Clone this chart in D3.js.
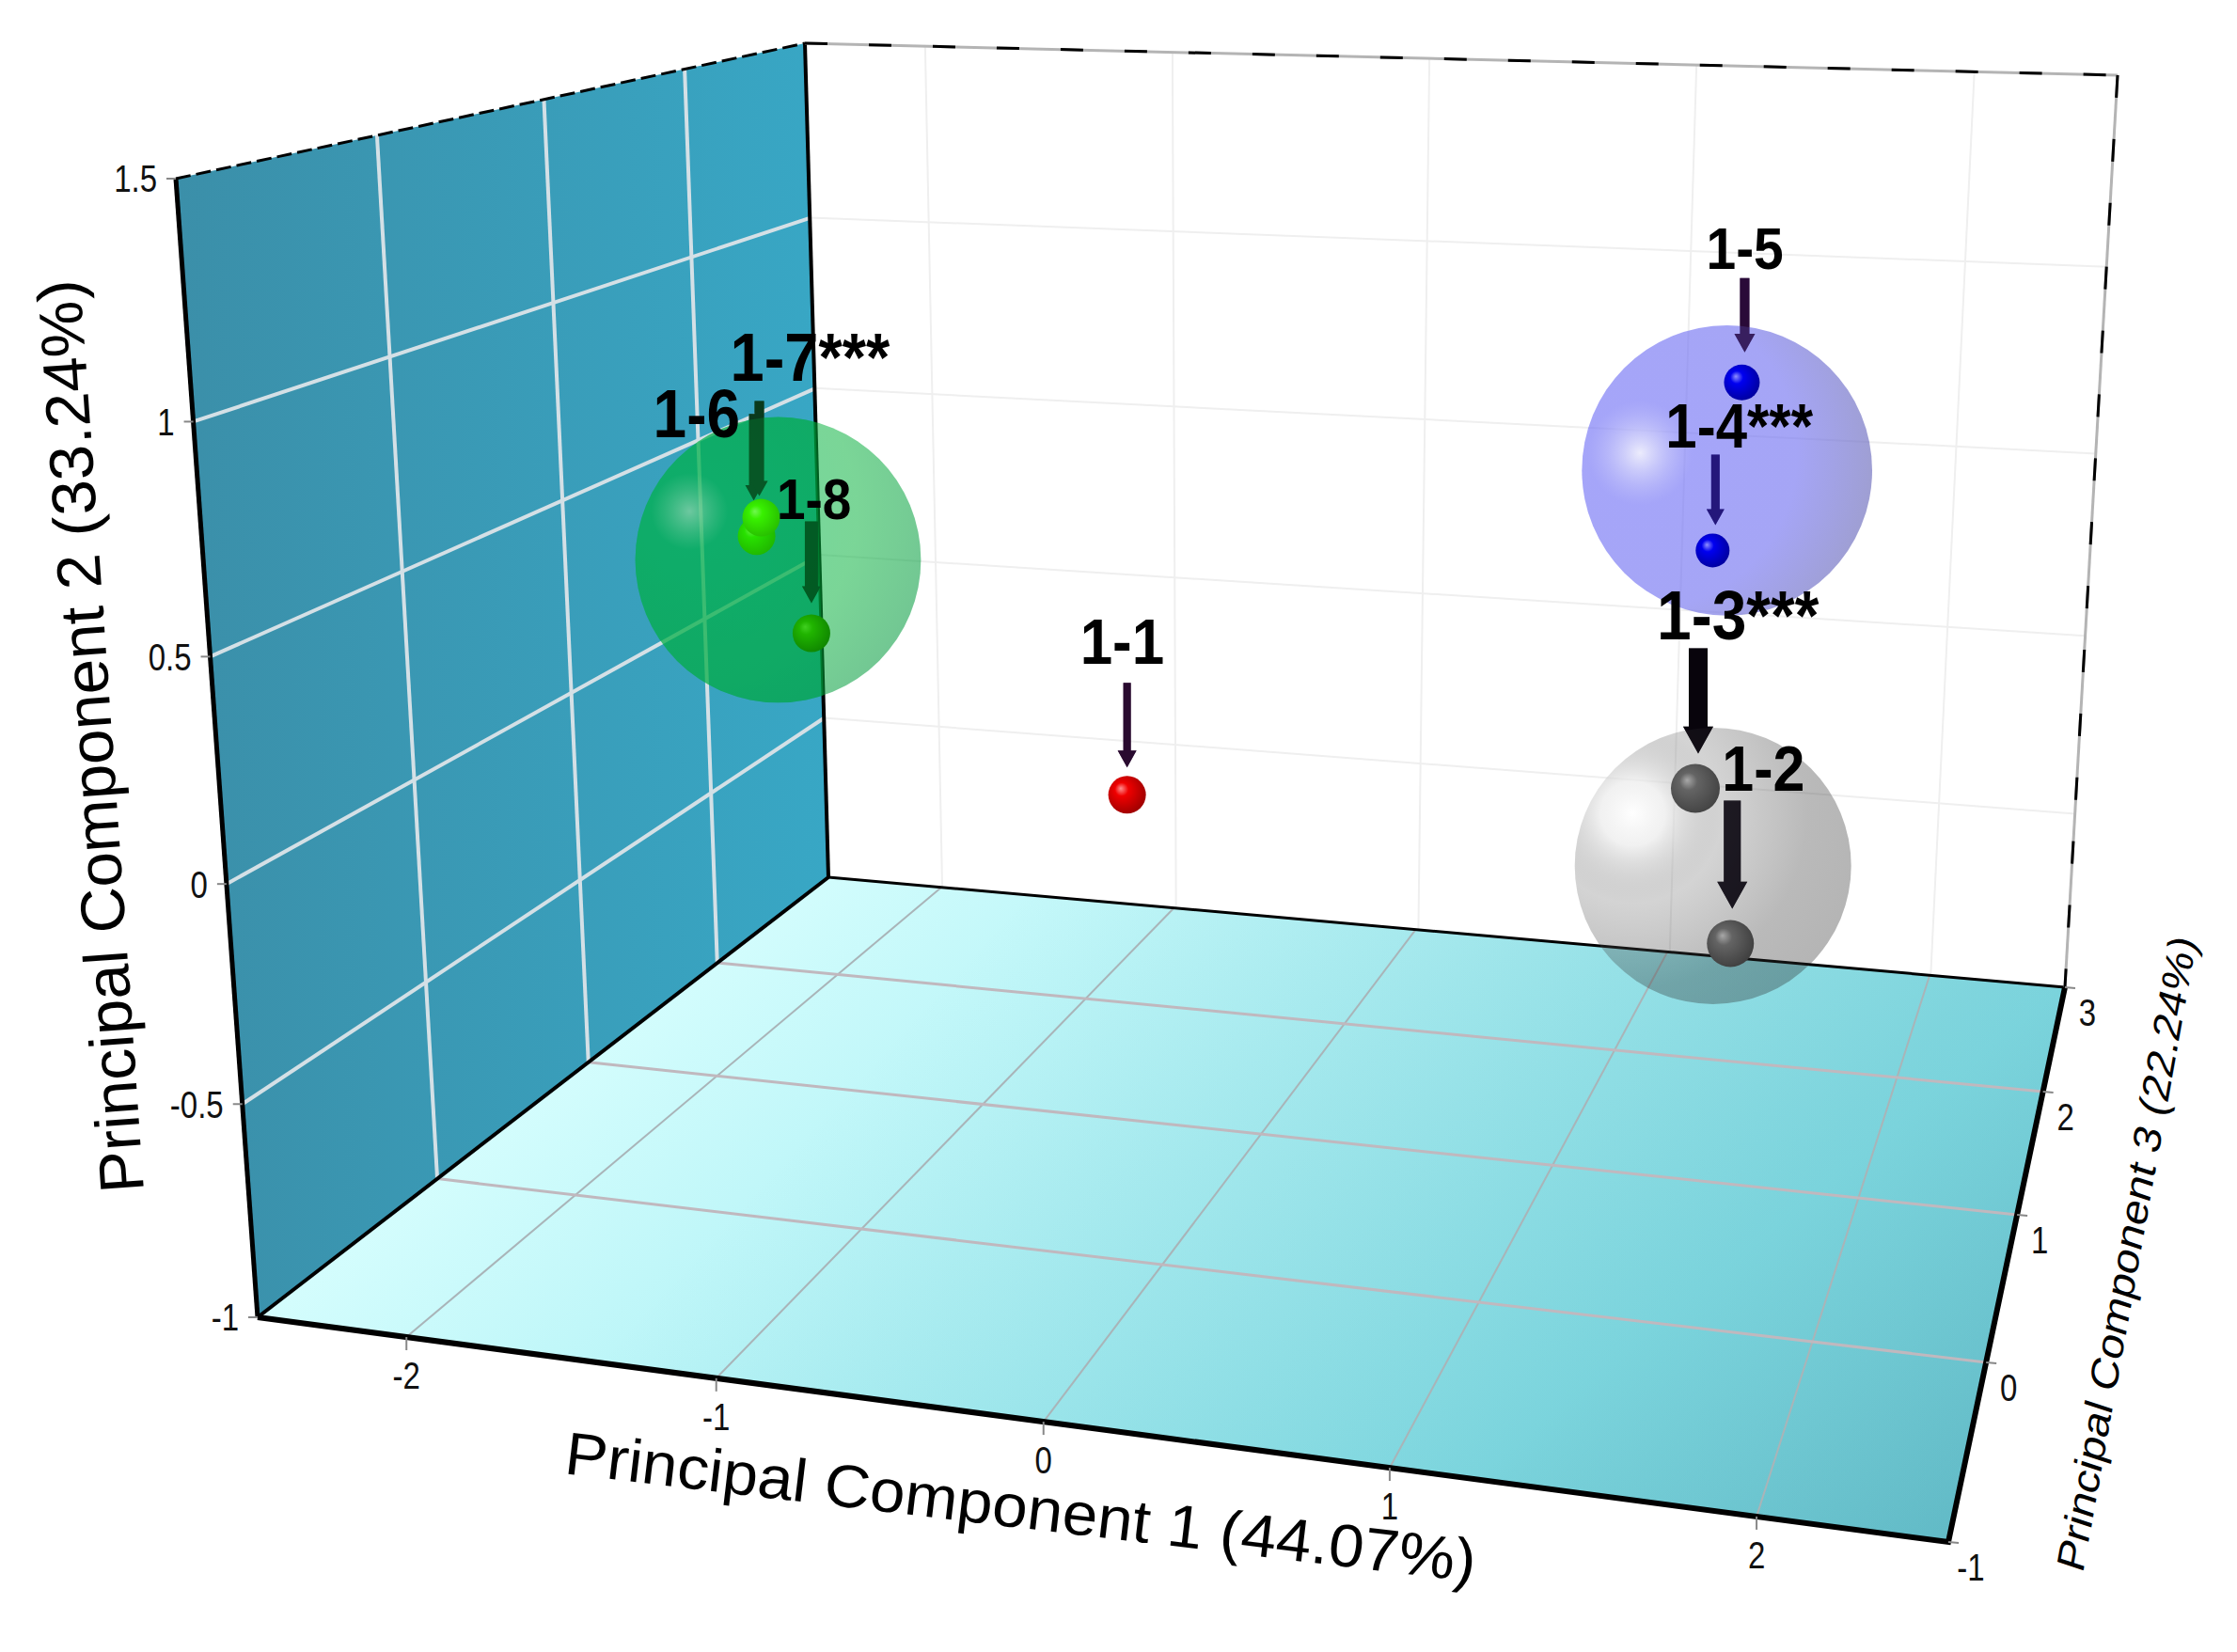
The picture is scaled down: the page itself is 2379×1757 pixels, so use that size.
<!DOCTYPE html>
<html>
<head>
<meta charset="utf-8">
<script src="https://cdn.jsdelivr.net/npm/d3@7"></script>
<style>
  html, body { margin: 0; background: #fff; }
  text { font-family: "Liberation Sans", Arial, sans-serif; }
</style>
</head>
<body>
<div id="chart"></div>
<script>
const xTicks = [-2, -1, 0, 1, 2];
const yTicks = [-1, -0.5, 0, 0.5, 1, 1.5];
const zTicks = [-1, 0, 1, 2, 3];

const sampleLabels = ['1-1', '1-2', '1-3***', '1-4***', '1-5', '1-6', '1-7***', '1-8'];
const sampleGroups = ['red', 'gray', 'gray', 'blue', 'blue', 'green', 'green', 'green'];
const samplePc1 = [-0.47, 1.67, 1.55, 1.29, 1.37, -2.03, -2.01, -1.83];
const samplePc2 = [-0.19, -0.24, 0.10, 0.32, 0.76, 0.30, 0.35, 0.05];
const samplePc3 = [1, 0.3, 0.3, 2, 2, 1.5, 1.5, 1.5];

const clusterNames = ['green', 'gray', 'blue'];
const clusterPc1 = [-1.95, 1.61, 1.33];
const clusterPc2 = [0.24, -0.07, 0.53];
const clusterPc3 = [1.5, 0.3, 2];
const clusterSpread = [0.62, 0.6, 0.63];

const width = 2379, height = 1757;

// corners of the box on screen
const C = [274, 1401], D = [881, 933], E = [2196, 1050], F = [2072, 1640];
const A = [187, 190], B = [856, 46], G = [2252, 80], H = [2143, 262];

// label size/offset and arrow shape, all relative to the sample's dot
const annotation = {
  '1-1': { size: 62, dx: -50, dy: -139, ax: 0, top: -119, tip: -29, w: 8, head: 20, color: '#2a0a30' },
  '1-2': { size: 61, dx: -9, dy: -162, ax: 2, top: -152, tip: -37, w: 18, head: 32, color: '#14101a' },
  '1-3***': { size: 66, dx: -41, dy: -159, ax: 3, top: -149, tip: -37, w: 20, head: 32, color: '#08040c' },
  '1-4***': { size: 60, dx: -50, dy: -109, ax: 3, top: -102, tip: -27, w: 9, head: 19, color: '#10005a' },
  '1-5': { size: 57, dx: -38, dy: -121, ax: 3, top: -111, tip: -32, w: 10, head: 22, color: '#2a0a38' },
  '1-6': { size: 64, dx: -110, dy: -105, ax: -3, top: -130, tip: -38, w: 10, head: 18, color: '#0a3a1c' },
  '1-7***': { size: 65, dx: -33, dy: -146, ax: -2, top: -124, tip: -23, w: 10, head: 18, color: '#0a3a1c' },
  '1-8': { size: 55, dx: -37, dy: -121, ax: 0, top: -119, tip: -32, w: 14, head: 20, color: '#04401a' }
};
const dotStyle = {
  '1-1': { r: 20, hi: '#ff9090', mid: '#f00000', dark: '#a00000' },
  '1-2': { r: 25, hi: '#a8a8a8', mid: '#646464', dark: '#404040' },
  '1-3***': { r: 26, hi: '#a8a8a8', mid: '#646464', dark: '#444444' },
  '1-4***': { r: 18, hi: '#9090ff', mid: '#0000f0', dark: '#0000a0' },
  '1-5': { r: 19, hi: '#9090ff', mid: '#0000f0', dark: '#0000a0' },
  '1-6': { r: 20, hi: '#60f040', mid: '#28e000', dark: '#20b800' },
  '1-7***': { r: 20, hi: '#70f850', mid: '#38f000', dark: '#28c000' },
  '1-8': { r: 20, hi: '#40d020', mid: '#20b400', dark: '#108800' }
};
const clusterFill = {
  green: { cx: 0.19, cy: 0.33, stops: [[0, 'rgb(225,240,230)', 0.75], [0.15, 'rgb(0,185,80)', 0.55], [0.65, 'rgb(0,175,55)', 0.52], [1, 'rgb(0,150,60)', 0.56]] },
  gray: { cx: 0.21, cy: 0.31, stops: [[0, 'rgb(255,255,255)', 0.95], [0.13, 'rgb(235,235,235)', 0.7], [0.36, 'rgb(110,110,110)', 0.3], [0.7, 'rgb(45,45,45)', 0.33], [1, 'rgb(45,45,45)', 0.36]] },
  blue: { cx: 0.2, cy: 0.44, stops: [[0, 'rgb(235,235,252)', 0.95], [0.2, 'rgb(110,110,245)', 0.62], [0.6, 'rgb(110,110,240)', 0.62], [1, 'rgb(110,110,170)', 0.68]] }
};

// unit square -> screen quad
function quad(p00, p10, p11, p01) {
  const dx1 = p10[0] - p11[0], dx2 = p01[0] - p11[0], sx = p00[0] - p10[0] + p11[0] - p01[0];
  const dy1 = p10[1] - p11[1], dy2 = p01[1] - p11[1], sy = p00[1] - p10[1] + p11[1] - p01[1];
  const den = dx1 * dy2 - dx2 * dy1;
  const g = (sx * dy2 - dx2 * sy) / den, h = (dx1 * sy - sx * dy1) / den;
  const a = p10[0] - p00[0] + g * p10[0], b = p01[0] - p00[0] + h * p01[0], c = p00[0];
  const d = p10[1] - p00[1] + g * p10[1], e = p01[1] - p00[1] + h * p01[1], f = p00[1];
  return (u, v) => {
    const w = g * u + h * v + 1;
    return [(a * u + b * v + c) / w, (d * u + e * v + f) / w];
  };
}

const xScale = d3.scaleLinear().domain([-2.5, 2.5]).range([0, 1]);
const yScale = d3.scaleLinear().domain([-1, 1.5]).range([0, 1]);
const zScale = d3.scaleLinear().domain([-1, 3]).range([0, 1]);
const spreadScale = d3.scaleLinear().domain([0, 1]).range([0, 245]);

const floorQuad = quad(C, F, E, D);
const topQuad = quad(A, H, G, B);
const wallQuad = quad(C, D, B, A);
const backQuad = quad(D, E, G, B);

function project(pc1, pc2, pc3) {
  const u = xScale(pc1), v = zScale(pc3), w = yScale(pc2);
  const a = floorQuad(u, v), b = topQuad(u, v);
  return [a[0] + (b[0] - a[0]) * w, a[1] + (b[1] - a[1]) * w];
}

const svg = d3.select('#chart').append('svg').attr('width', width).attr('height', height);
const defs = svg.append('defs');
const line = d3.line();

const wallGrad = defs.append('linearGradient').attr('id', 'wall-fill')
  .attr('gradientUnits', 'userSpaceOnUse').attr('x1', 190).attr('x2', 880).attr('y1', 0).attr('y2', 0);
wallGrad.append('stop').attr('offset', 0).attr('stop-color', '#3b8fa9');
wallGrad.append('stop').attr('offset', 1).attr('stop-color', '#38a7c5');

const floorGrad = defs.append('linearGradient').attr('id', 'floor-fill')
  .attr('gradientUnits', 'userSpaceOnUse').attr('x1', 274).attr('y1', 1401).attr('x2', 1130).attr('y2', 2426);
floorGrad.append('stop').attr('offset', 0).attr('stop-color', '#d4fdfd');
floorGrad.append('stop').attr('offset', 0.72).attr('stop-color', '#84e4ec');
floorGrad.append('stop').attr('offset', 1).attr('stop-color', '#66c6d2');

const floorShade = defs.append('linearGradient').attr('id', 'floor-shade')
  .attr('gradientUnits', 'userSpaceOnUse').attr('x1', 900).attr('y1', 1150).attr('x2', 1500).attr('y2', 1700);
floorShade.append('stop').attr('offset', 0).attr('stop-color', '#4a7c88').attr('stop-opacity', 0);
floorShade.append('stop').attr('offset', 1).attr('stop-color', '#4a7c88').attr('stop-opacity', 0.16);

defs.append('clipPath').attr('id', 'wall-clip').append('path').attr('d', line([A, B, D, C]) + 'Z');

const plot = svg.append('g');

// back wall grid
const backGrid = plot.append('g').attr('stroke', '#efefef').attr('stroke-width', 2).attr('fill', 'none');
xTicks.forEach(t => backGrid.append('path').attr('d', line([backQuad(xScale(t), 0), backQuad(xScale(t), 1)])));
yTicks.slice(1, -1).forEach(t => backGrid.append('path').attr('d', line([backQuad(0, yScale(t)), backQuad(1, yScale(t))])));

// left wall
plot.append('path').attr('d', line([A, B, D, C]) + 'Z').attr('fill', 'url(#wall-fill)');
const wallGrid = plot.append('g').attr('stroke', '#d4e0e6').attr('stroke-width', 4).attr('fill', 'none');
zTicks.slice(1, -1).forEach(t => wallGrid.append('path').attr('d', line([wallQuad(zScale(t), 0), wallQuad(zScale(t), 1)])));
yTicks.slice(1, -1).forEach(t => wallGrid.append('path').attr('d', line([wallQuad(0, yScale(t)), wallQuad(1, yScale(t))])));

// floor
plot.append('path').attr('d', line([C, F, E, D]) + 'Z').attr('fill', 'url(#floor-fill)');
plot.append('path').attr('d', line([C, F, E, D]) + 'Z').attr('fill', 'url(#floor-shade)');
const floorGrid = plot.append('g').attr('fill', 'none');
xTicks.forEach(t => floorGrid.append('path').attr('stroke', '#a9b4b8').attr('stroke-width', 2)
  .attr('d', line([floorQuad(xScale(t), 0), floorQuad(xScale(t), 1)])));
zTicks.slice(1, -1).forEach(t => floorGrid.append('path').attr('stroke', '#c0b8be').attr('stroke-width', 3)
  .attr('d', line([floorQuad(0, zScale(t)), floorQuad(1, zScale(t))])));

// frame
const frame = plot.append('g').attr('fill', 'none').attr('stroke', '#000');
frame.append('path').attr('d', line([A, C])).attr('stroke-width', 5);
frame.append('path').attr('d', line([C, F, E])).attr('stroke-width', 6);
frame.append('path').attr('d', line([D, C])).attr('stroke-width', 4);
frame.append('path').attr('d', line([D, E])).attr('stroke-width', 3);
frame.append('path').attr('d', line([B, D])).attr('stroke-width', 4);
frame.append('path').attr('d', line([A, B])).attr('stroke-width', 3).attr('stroke-dasharray', '16 6');
[[B, G], [G, E]].forEach(seg => {
  frame.append('path').attr('d', line(seg)).attr('stroke', '#b4b4b4').attr('stroke-width', 3);
  frame.append('path').attr('d', line(seg)).attr('stroke-width', 3).attr('stroke-dasharray', '24 44');
});

// ticks and tick labels
const tickG = svg.append('g').attr('font-size', 33).attr('fill', '#111');
function addTick(p, tick, labelPos, anchor, text) {
  tickG.append('path').attr('d', line([p, tick])).attr('stroke', '#888').attr('stroke-width', 2).attr('fill', 'none');
  tickG.append('text').attr('transform', `translate(${labelPos[0]},${labelPos[1]}) scale(1,1.25)`)
    .attr('text-anchor', anchor).attr('dominant-baseline', 'central').text(text);
}
xTicks.forEach(t => {
  const p = floorQuad(xScale(t), 0);
  addTick(p, [p[0], p[1] + 14], [p[0], p[1] + 41], 'middle', t);
});
yTicks.forEach(t => {
  const p = wallQuad(0, yScale(t));
  addTick(p, [p[0] - 10, p[1]], [p[0] - 20, p[1]], 'end', t);
});
zTicks.forEach(t => {
  const p = floorQuad(1, zScale(t));
  addTick(p, [p[0] + 11, p[1] + 1], [p[0] + 24, p[1] + 27], 'middle', t);
});

// axis titles
const titles = [
  { text: 'Principal Component 1 (44.07%)', tf: 'translate(599,1567) rotate(6.8)', size: 64, len: 975 },
  { text: 'Principal Component 2 (33.24%)', tf: 'translate(153,1267) rotate(-94)', size: 66, len: 973 },
  { text: 'Principal Component 3 (22.24%)', tf: 'translate(2215,1674) rotate(-79.8) skewX(-8)', size: 42, len: 684 }
];
svg.append('g').selectAll('text').data(titles).join('text')
  .attr('transform', d => d.tf)
  .attr('font-size', d => d.size)
  .attr('textLength', d => d.len)
  .attr('lengthAdjust', 'spacingAndGlyphs')
  .attr('fill', '#000')
  .text(d => d.text);

const samples = sampleLabels.map((label, i) => ({
  label, group: sampleGroups[i], pos: project(samplePc1[i], samplePc2[i], samplePc3[i])
}));
const clusters = clusterNames.map((name, i) => ({
  name, pos: project(clusterPc1[i], clusterPc2[i], clusterPc3[i]), r: spreadScale(clusterSpread[i])
}));

function arrowPath(d) {
  const a = annotation[d.label];
  const x = d.pos[0] + a.ax, y0 = d.pos[1] + a.top, y1 = d.pos[1] + a.tip;
  const neck = y1 - a.head * 0.9;
  const p = d3.path();
  p.moveTo(x - a.w / 2, y0);
  p.lineTo(x + a.w / 2, y0);
  p.lineTo(x + a.w / 2, neck);
  p.lineTo(x + a.head / 2, neck);
  p.lineTo(x, y1);
  p.lineTo(x - a.head / 2, neck);
  p.lineTo(x - a.w / 2, neck);
  p.closePath();
  return p.toString();
}

// arrows behind the spheres, then again at part opacity so they pick up the tint but stay dark
svg.append('g').selectAll('path').data(samples).join('path')
  .attr('d', arrowPath)
  .attr('fill', d => annotation[d.label].color);

// cluster spheres
clusters.forEach(c => {
  const f = clusterFill[c.name];
  const grad = defs.append('radialGradient').attr('id', 'sphere-' + c.name)
    .attr('cx', f.cx).attr('cy', f.cy).attr('r', 0.9);
  f.stops.forEach(s => grad.append('stop').attr('offset', s[0]).attr('stop-color', s[1]).attr('stop-opacity', s[2]));
});
svg.append('g').selectAll('circle').data(clusters).join('circle')
  .attr('cx', d => d.pos[0])
  .attr('cy', d => d.pos[1])
  .attr('r', d => d.r)
  .attr('fill', d => `url(#sphere-${d.name})`);

// the green sphere reads stronger where it overlaps the wall
const greenCluster = clusters.find(c => c.name === 'green');
svg.append('circle').attr('clip-path', 'url(#wall-clip)')
  .attr('cx', greenCluster.pos[0])
  .attr('cy', greenCluster.pos[1])
  .attr('r', greenCluster.r)
  .attr('fill', 'rgb(0,170,70)')
  .attr('fill-opacity', 0.4);

svg.append('g').attr('opacity', 0.65).selectAll('path').data(samples).join('path')
  .attr('d', arrowPath)
  .attr('fill', d => annotation[d.label].color);

// sample dots
samples.forEach((d, i) => {
  const s = dotStyle[d.label];
  const grad = defs.append('radialGradient').attr('id', 'dot-' + i)
    .attr('cx', 0.42).attr('cy', 0.42).attr('r', 0.6).attr('fx', 0.33).attr('fy', 0.33);
  grad.append('stop').attr('offset', 0).attr('stop-color', s.hi);
  grad.append('stop').attr('offset', 0.3).attr('stop-color', s.mid);
  grad.append('stop').attr('offset', 1).attr('stop-color', s.dark);
});
svg.append('g').selectAll('circle').data(samples).join('circle')
  .attr('cx', d => d.pos[0])
  .attr('cy', d => d.pos[1])
  .attr('r', d => dotStyle[d.label].r)
  .attr('fill', (d, i) => `url(#dot-${i})`);

// sample labels
svg.append('g').selectAll('text').data(samples).join('text')
  .attr('transform', d => {
    const a = annotation[d.label];
    return `translate(${d.pos[0] + a.dx},${d.pos[1] + a.dy}) scale(1,1.12)`;
  })
  .attr('font-size', d => annotation[d.label].size)
  .attr('font-weight', 'bold')
  .attr('fill', '#000')
  .text(d => d.label);
</script>
</body>
</html>
